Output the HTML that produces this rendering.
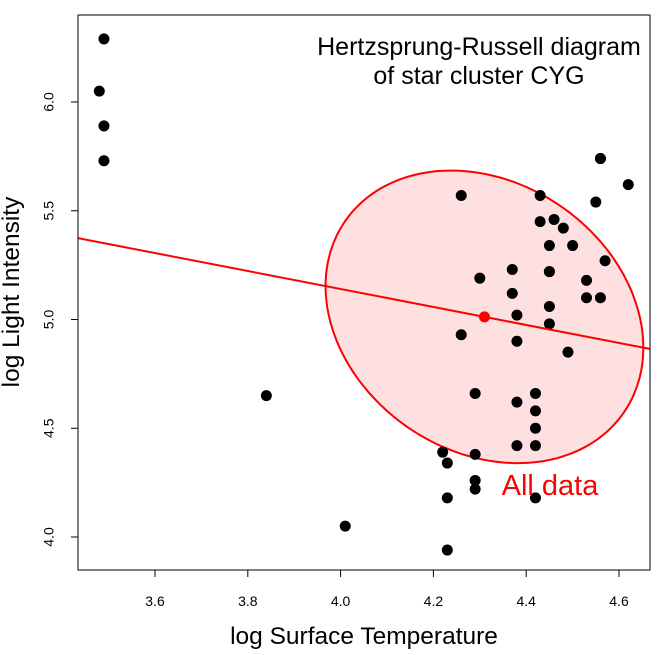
<!DOCTYPE html>
<html><head><meta charset="utf-8"><style>
body{margin:0;background:#fff}
svg{display:block;font-family:"Liberation Sans",sans-serif}
</style></head><body>
<svg id="c" width="671" height="655"></svg>
<script>
const logTe=[4.37,4.56,4.26,4.56,4.30,4.46,3.84,4.57,4.26,4.37,3.49,4.43,4.48,4.01,4.29,4.42,4.23,4.42,4.23,3.49,4.29,4.29,4.42,4.49,4.38,4.42,4.29,4.38,4.22,3.48,4.38,4.56,4.45,3.49,4.23,4.62,4.53,4.45,4.53,4.43,4.38,4.45,4.50,4.45,4.55,4.45,4.42];
const logLight=[5.23,5.74,4.93,5.74,5.19,5.46,4.65,5.27,5.57,5.12,5.73,5.45,5.42,4.05,4.26,4.58,3.94,4.18,4.18,5.89,4.38,4.22,4.42,4.85,5.02,4.66,4.66,4.90,4.39,6.05,4.42,5.10,5.22,6.29,4.34,5.62,5.10,5.22,5.18,5.57,4.62,5.06,5.34,5.34,5.54,4.98,4.50];
const xTicks=[3.6,3.8,4.0,4.2,4.4,4.6];
const yTicks=[4.0,4.5,5.0,5.5,6.0];
const ellipseLevel=0.5;

const sx=v=>155+(v-3.6)*464;
const sy=v=>537-(v-4.0)*217.5;
const svg=document.getElementById('c');
const NS='http://www.w3.org/2000/svg';
function mk(t,a,p){const e=document.createElementNS(NS,t);for(const k in a)e.setAttribute(k,a[k]);(p||svg).appendChild(e);return e;}

const L=78,R=650,T=15,B=570;
const n=logTe.length;
const mx=logTe.reduce((a,b)=>a+b)/n, my=logLight.reduce((a,b)=>a+b)/n;
let sxx=0,syy=0,sxy=0;
for(let i=0;i<n;i++){const dx=logTe[i]-mx,dy=logLight[i]-my;sxx+=dx*dx;syy+=dy*dy;sxy+=dx*dy;}
sxx/=n-1;syy/=n-1;sxy/=n-1;
const slope=sxy/sxx, icpt=my-slope*mx;

const g=mk('g',{'clip-path':'url(#clip)'});
const cp=mk('clipPath',{id:'clip'});mk('rect',{x:L,y:T,width:R-L,height:B-T},cp);

const c=Math.sqrt(-2*Math.log(1-ellipseLevel));
const r=sxy/Math.sqrt(sxx*syy);
let d='';
for(let k=0;k<=200;k++){const t=2*Math.PI*k/200;
 const ex=mx+c*Math.sqrt(sxx)*Math.cos(t);
 const ey=my+c*Math.sqrt(syy)*(r*Math.cos(t)+Math.sqrt(1-r*r)*Math.sin(t));
 d+=(k?'L':'M')+sx(ex).toFixed(1)+','+sy(ey).toFixed(1);}
const el=mk('path',{d:d+'Z',fill:'rgba(255,0,0,0.12)',stroke:'#f00','stroke-width':2},g);


for(let i=0;i<n;i++){const p=mk('circle',{cx:sx(logTe[i]),cy:sy(logLight[i]),r:5.5,fill:'#000'},g);
}

const x0=3.4,x1=4.7;
const ln=mk('line',{x1:sx(x0),y1:sy(icpt+slope*x0),x2:sx(x1),y2:sy(icpt+slope*x1),stroke:'#f00','stroke-width':2},g);

const mc=mk('circle',{cx:sx(mx),cy:sy(my),r:5.5,fill:'#f00'},g);


const bx=mk('rect',{x:L,y:T,width:R-L,height:B-T,fill:'none',stroke:'#000','stroke-width':1});


xTicks.forEach(v=>{mk('line',{x1:sx(v),x2:sx(v),y1:B,y2:B+7,stroke:'#000'});
const t=mk('text',{x:sx(v),y:B+36,'text-anchor':'middle','font-size':14});t.textContent=v.toFixed(1);
});
yTicks.forEach(v=>{mk('line',{x1:L,x2:L-7,y1:sy(v),y2:sy(v),stroke:'#000'});
const t=mk('text',{x:L-28,y:sy(v),'text-anchor':'middle','font-size':14,transform:`rotate(-90 ${L-28} ${sy(v)})`,'dominant-baseline':'middle'});t.textContent=v.toFixed(1);
});

let t=mk('text',{x:364,y:644,'text-anchor':'middle','font-size':24.5});t.textContent='log Surface Temperature';

t=mk('text',{x:19,y:292,'text-anchor':'middle','font-size':24.5,transform:'rotate(-90 19 292)'});t.textContent='log Light Intensity';

t=mk('text',{x:479,y:55,'text-anchor':'middle','font-size':25});t.textContent='Hertzsprung-Russell diagram';

t=mk('text',{x:479,y:84,'text-anchor':'middle','font-size':25});t.textContent='of star cluster CYG';

t=mk('text',{x:550,y:495,'text-anchor':'middle','font-size':29,fill:'#f00'});t.textContent='All data';

</script>
</body></html>
